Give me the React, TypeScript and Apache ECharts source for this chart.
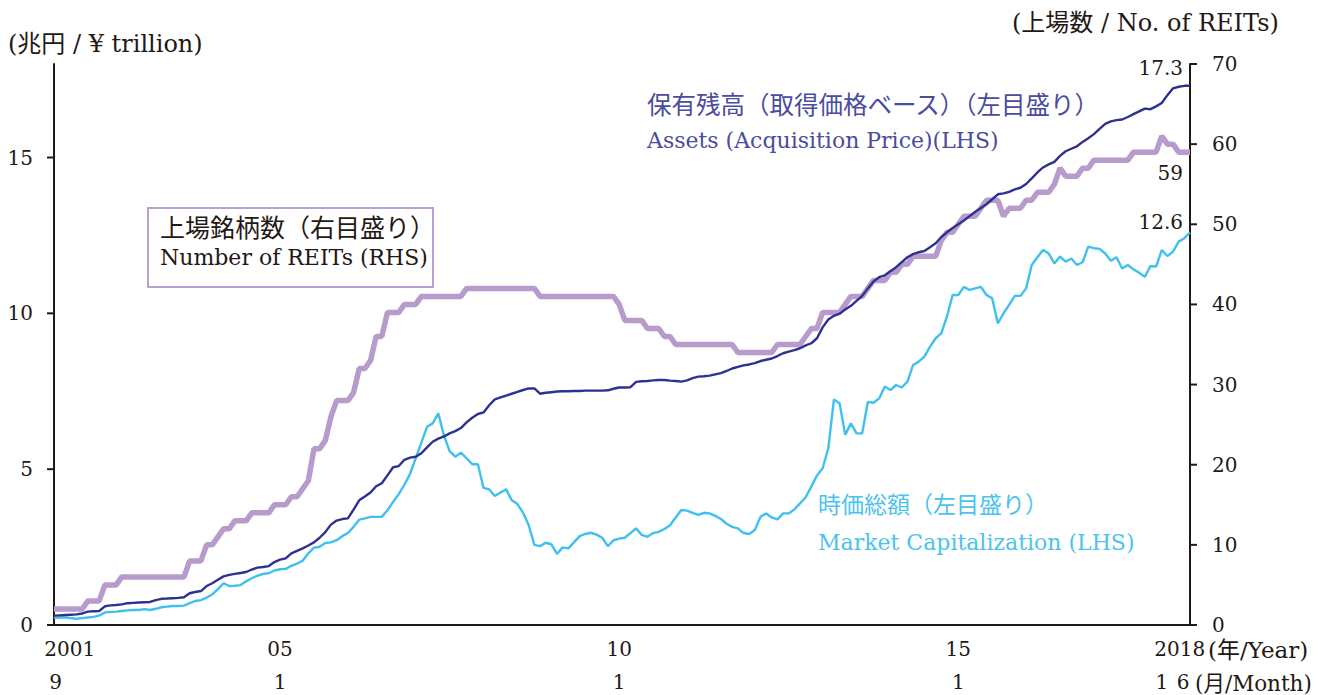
import React, { useEffect, useRef } from "react";
import * as echarts from "echarts";

// Monthly data, 2001-09 .. 2018-06 (202 months), rows = calendar years
const assets: number[] = [
  0.30, 0.31, 0.32, 0.33,
  0.34, 0.37, 0.43, 0.44, 0.45, 0.60, 0.63, 0.64, 0.66, 0.70, 0.71, 0.72,
  0.73, 0.74, 0.80, 0.84, 0.85, 0.86, 0.87, 0.89, 1.02, 1.06, 1.09, 1.25,
  1.34, 1.45, 1.56, 1.61, 1.64, 1.67, 1.70, 1.78, 1.84, 1.86, 1.89, 2.02,
  2.10, 2.14, 2.30, 2.38, 2.46, 2.55, 2.65, 2.80, 2.98, 3.22, 3.35, 3.40,
  3.42, 3.70, 4.00, 4.12, 4.25, 4.45, 4.55, 4.80, 5.06, 5.10, 5.30, 5.37,
  5.40, 5.51, 5.70, 5.88, 5.98, 6.05, 6.15, 6.22, 6.32, 6.50, 6.65, 6.77,
  6.82, 7.05, 7.24, 7.30, 7.36, 7.42, 7.48, 7.54, 7.59, 7.59, 7.42, 7.45,
  7.47, 7.49, 7.50, 7.50, 7.51, 7.51, 7.52, 7.52, 7.52, 7.52, 7.53, 7.58,
  7.62, 7.62, 7.63, 7.80, 7.82, 7.83, 7.85, 7.86, 7.86, 7.84, 7.83, 7.81,
  7.85, 7.92, 7.97, 7.98, 8.00, 8.04, 8.08, 8.15, 8.23, 8.28, 8.33, 8.36,
  8.40, 8.47, 8.51, 8.55, 8.63, 8.72, 8.77, 8.82, 8.88, 8.97, 9.04, 9.20,
  9.55, 9.80, 9.92, 9.99, 10.12, 10.24, 10.40, 10.56, 10.80, 11.02, 11.16, 11.22,
  11.35, 11.48, 11.64, 11.80, 11.90, 11.96, 12.00, 12.12, 12.25, 12.45, 12.60, 12.74,
  12.86, 12.98, 13.12, 13.26, 13.38, 13.50, 13.66, 13.82, 13.85, 13.90, 13.98, 14.03,
  14.15, 14.33, 14.52, 14.68, 14.78, 14.86, 15.05, 15.20, 15.28, 15.36, 15.50, 15.62,
  15.75, 15.92, 16.08, 16.16, 16.20, 16.22, 16.30, 16.39, 16.48, 16.57, 16.55, 16.64,
  16.75, 17.00, 17.22, 17.27, 17.30, 17.30,
];

const marketCap: number[] = [
  0.23, 0.24, 0.24, 0.22,
  0.20, 0.22, 0.24, 0.26, 0.30, 0.40, 0.42, 0.43, 0.45, 0.47, 0.48, 0.48,
  0.51, 0.48, 0.52, 0.57, 0.59, 0.61, 0.61, 0.62, 0.70, 0.77, 0.80, 0.88,
  0.98, 1.15, 1.34, 1.25, 1.26, 1.28, 1.40, 1.50, 1.58, 1.64, 1.66, 1.75,
  1.79, 1.80, 1.90, 1.97, 2.06, 2.30, 2.48, 2.51, 2.63, 2.65, 2.72, 2.85,
  2.95, 3.15, 3.38, 3.42, 3.47, 3.47, 3.47, 3.68, 3.95, 4.20, 4.50, 4.85,
  5.35, 5.85, 6.36, 6.47, 6.79, 6.08, 5.58, 5.40, 5.53, 5.35, 5.16, 5.16,
  4.40, 4.35, 4.14, 4.25, 4.35, 4.00, 3.88, 3.60, 3.20, 2.57, 2.53, 2.64,
  2.59, 2.28, 2.49, 2.46, 2.65, 2.85, 2.92, 2.96, 2.90, 2.80, 2.53, 2.72,
  2.77, 2.80, 2.95, 3.10, 2.89, 2.83, 2.95, 2.99, 3.08, 3.20, 3.45, 3.69,
  3.67, 3.60, 3.53, 3.60, 3.58, 3.50, 3.40, 3.25, 3.15, 3.10, 2.95, 2.92,
  3.05, 3.47, 3.58, 3.45, 3.39, 3.58, 3.58, 3.71, 3.90, 4.10, 4.44, 4.80,
  5.03, 5.67, 7.24, 7.11, 6.10, 6.47, 6.15, 6.15, 7.16, 7.13, 7.27, 7.65,
  7.54, 7.70, 7.62, 7.81, 8.34, 8.45, 8.61, 8.93, 9.20, 9.36, 9.90, 10.59,
  10.59, 10.85, 10.75, 10.80, 10.85, 10.59, 10.48, 9.68, 10.00, 10.27, 10.56, 10.56,
  10.80, 11.55, 11.80, 12.03, 11.92, 11.60, 11.82, 11.66, 11.76, 11.55, 11.64, 12.14,
  12.09, 12.07, 11.92, 11.69, 11.80, 11.44, 11.55, 11.41, 11.30, 11.17, 11.52, 11.50,
  12.03, 11.84, 11.98, 12.30, 12.41, 12.60,
];

const reitCount: number[] = [
  2, 2, 2, 2,
  2, 2, 3, 3, 3, 5, 5, 5, 6, 6, 6, 6,
  6, 6, 6, 6, 6, 6, 6, 6, 8, 8, 8, 10,
  10, 11, 12, 12, 13, 13, 13, 14, 14, 14, 14, 15,
  15, 15, 16, 16, 17, 18, 22, 22, 23, 26, 28, 28,
  28, 29, 32, 32, 33, 36, 36, 39, 39, 39, 40, 40,
  40, 41, 41, 41, 41, 41, 41, 41, 41, 42, 42, 42,
  42, 42, 42, 42, 42, 42, 42, 42, 42, 42, 41, 41,
  41, 41, 41, 41, 41, 41, 41, 41, 41, 41, 41, 41,
  40, 38, 38, 38, 38, 37, 37, 37, 36, 36, 35, 35,
  35, 35, 35, 35, 35, 35, 35, 35, 35, 34, 34, 34,
  34, 34, 34, 34, 35, 35, 35, 35, 35, 36, 37, 37,
  39, 39, 39, 39, 40, 41, 41, 41, 42, 43, 43, 43,
  44, 44, 45, 45, 46, 46, 46, 46, 46, 48, 49, 49,
  50, 51, 51, 51, 52, 53, 53, 53, 51, 52, 52, 52,
  53, 53, 54, 54, 54, 55, 57, 56, 56, 56, 57, 57,
  58, 58, 58, 58, 58, 58, 58, 59, 59, 59, 59, 59,
  61, 60, 60, 59, 59, 59,
];

// x-axis tick labels (month index from 2001-09)
const yearLabels = ["2001", "05", "10", "15", "2018"];
const yearLabelPos = [2.8, 40, 100, 160, 199.2];
const monthLabels = ["9", "1", "1", "1", "1", "6"];
const monthLabelPos = [0.3, 40, 100, 160, 196, 199.8];

// axis tick values
const leftTicks = [0, 5, 10, 15];
const rightTicks = [0, 10, 20, 30, 40, 50, 60, 70];

const NAVY = "#2f3191";
const CYAN = "#3fc0ee";
const LILAC = "#b69bcc";
const INK = "#231815";
const FONT = '"DejaVu Serif", "Noto Sans CJK JP", serif';

const pick = (labels: string[], pos: number[]) => (v: number) => {
  let best = 0;
  for (let k = 1; k < pos.length; k++) if (Math.abs(pos[k] - v) < Math.abs(pos[best] - v)) best = k;
  return labels[best];
};

export default function App() {
  const ref = useRef<HTMLDivElement>(null);
  useEffect(() => {
    if (!ref.current) return;
    const chart = echarts.init(ref.current, undefined, { renderer: "svg" });
    const n = assets.length - 1;
    const txt = (text: string, x: number, y: number, size: number, color = INK, align = "left") => ({
      type: "text",
      x,
      y,
      style: { text, fontSize: size, fontFamily: FONT, fill: color, align, verticalAlign: "middle" },
    });
    const endLbl = (text: string, offset: number[]) => ({
      show: true,
      formatter: text,
      align: "right",
      verticalAlign: "middle",
      distance: 0,
      offset,
      fontSize: 20,
      fontFamily: FONT,
      color: INK,
    });
    const axisLine = { show: true, onZero: false, lineStyle: { color: INK, width: 2 } };
    chart.setOption({
      animation: false,
      grid: { left: 54, right: 152, top: 64, bottom: 70 },
      xAxis: [
        {
          type: "value",
          min: 0,
          max: n,
          position: "bottom",
          axisLine,
          axisTick: { show: false },
          splitLine: { show: false },
          axisLabel: {
            customValues: yearLabelPos,
            formatter: pick(yearLabels, yearLabelPos),
            margin: 14,
            fontSize: 20,
            fontFamily: FONT,
            color: INK,
          },
        },
        {
          type: "value",
          min: 0,
          max: n,
          position: "bottom",
          offset: 33,
          axisLine: { show: false, onZero: false },
          axisTick: { show: false },
          splitLine: { show: false },
          axisLabel: {
            customValues: monthLabelPos,
            formatter: pick(monthLabels, monthLabelPos),
            margin: 14,
            fontSize: 20,
            fontFamily: FONT,
            color: INK,
          },
        },
      ],
      yAxis: [
        {
          type: "value",
          min: 0,
          max: 18,
          interval: 5,
          position: "left",
          axisLine,
          axisTick: { show: false },
          axisLabel: { showMaxLabel: false, margin: 21, fontSize: 20, fontFamily: FONT, color: INK },
          splitLine: { show: false },
        },
        {
          type: "value",
          min: 0,
          max: 70,
          interval: 10,
          position: "right",
          axisLine,
          axisTick: { show: false },
          axisLabel: { margin: 22, fontSize: 20, fontFamily: FONT, color: INK },
          splitLine: { show: false },
        },
      ],
      series: [
        {
          name: "REITs",
          type: "line",
          yAxisIndex: 1,
          data: reitCount.map((v, i) => [i, v]),
          showSymbol: false,
          lineStyle: { color: LILAC, width: 5.5 },
          itemStyle: { color: LILAC },
          endLabel: endLbl(String(reitCount[n]), [-7, 21]),
          z: 1,
        },
        {
          name: "MarketCap",
          type: "line",
          data: marketCap.map((v, i) => [i, v]),
          showSymbol: false,
          lineStyle: { color: CYAN, width: 2.4 },
          itemStyle: { color: CYAN },
          endLabel: endLbl(marketCap[n].toFixed(1), [-7, -10]),
          z: 2,
        },
        {
          name: "Assets",
          type: "line",
          data: assets.map((v, i) => [i, v]),
          showSymbol: false,
          lineStyle: { color: NAVY, width: 2.4 },
          itemStyle: { color: NAVY },
          endLabel: endLbl(assets[n].toFixed(1), [-7, -18]),
          z: 3,
        },
      ],
    });

    // axis ticks placed through the axis scales
    const xL = chart.convertToPixel({ xAxisIndex: 0 }, 0) as number;
    const xR = chart.convertToPixel({ xAxisIndex: 0 }, n) as number;
    const tick = (x1: number, x2: number, y: number) => ({
      type: "line",
      shape: { x1, y1: y, x2, y2: y },
      style: { stroke: INK, lineWidth: 2 },
      z: 10,
    });
    const ticks = [
      ...leftTicks.map((v) => tick(xL - 7, xL, chart.convertToPixel({ yAxisIndex: 0 }, v) as number)),
      ...rightTicks.map((v) => tick(xR, xR + 7, chart.convertToPixel({ yAxisIndex: 1 }, v) as number)),
    ];

    chart.setOption({
      graphic: [
        ...ticks,
        txt("(兆円 / ¥ trillion)", 8, 44, 24),
        txt("(上場数 / No. of REITs)", 1012, 23, 24),
        txt("(年/Year)", 1208, 650, 23),
        txt("(月/Month)", 1195, 683, 21.5),
        txt("保有残高（取得価格ベース）（左目盛り）", 647, 105, 24.5, "#4a4c9f"),
        txt("Assets (Acquisition Price)(LHS)", 647, 140, 22, "#4a4c9f"),
        txt("時価総額（左目盛り）", 818, 505, 23, "#4cc3ee"),
        txt("Market Capitalization (LHS)", 818, 542, 22, "#4cc3ee"),
        {
          type: "rect",
          shape: { x: 148, y: 208, width: 285, height: 79 },
          style: { fill: "none", stroke: "#b9a0d2", lineWidth: 2 },
        },
        txt("上場銘柄数（右目盛り）", 160, 228, 25, INK),
        txt("Number of REITs (RHS)", 160, 257, 22),
      ],
    });
    return () => chart.dispose();
  }, []);
  return (
    <div
      ref={ref}
      style={{ position: "fixed", left: 0, top: 0, width: 1342, height: 695, background: "#fff" }}
    />
  );
}
